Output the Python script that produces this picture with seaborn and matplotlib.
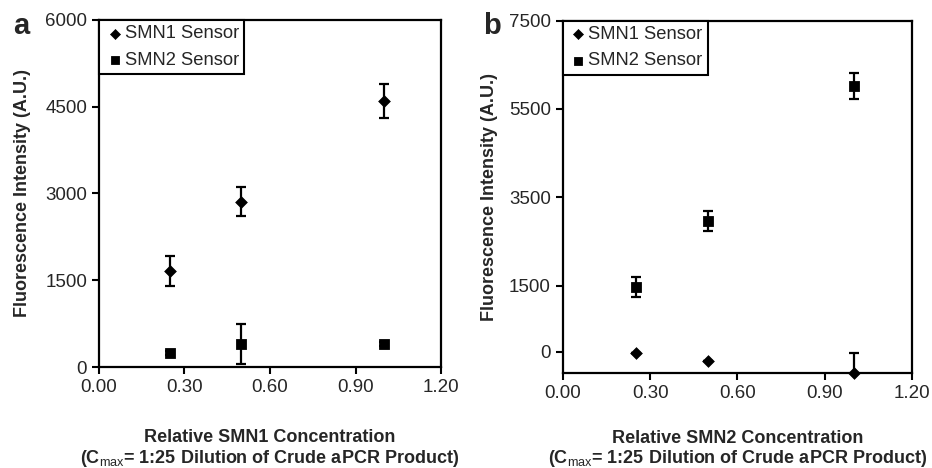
import numpy as np
import pandas as pd
import seaborn as sns
import matplotlib.pyplot as plt

# concentrations (relative to Cmax)
conc = [0.25, 0.50, 1.00]

# panel a: SMN1 target
a_smn1 = [1660, 2860, 4600]
a_smn1_err = [260, 245, 300]
a_smn2 = [240, 400, 400]
a_smn2_err = [40, 350, 30]

# panel b: SMN2 target
b_smn1 = [-40, -200, -490]
b_smn1_err = [0, 0, 450]
b_smn2 = [1470, 2960, 6020]
b_smn2_err = [230, 225, 290]

sensors = ["SMN1 Sensor", "SMN2 Sensor"]

sns.set_style("ticks")
plt.rcParams["font.family"] = ["Liberation Sans", "DejaVu Sans"]
plt.rcParams["mathtext.fontset"] = "custom"
plt.rcParams["mathtext.rm"] = "Liberation Sans"

fig = plt.figure(figsize=(9.32, 4.68), dpi=100)
ax_a = fig.add_axes([0.1062, 0.2158, 0.367, 0.7415])
ax_b = fig.add_axes([0.6038, 0.2023, 0.3748, 0.7534])

xlab2 = "(C$_{\\mathrm{max}}$= 1:25 Dilution of Crude aPCR Product)"


def draw(ax, s1, e1, s2, e2, ylim, yticks, xlabel, xpad, ypad):
    for vals, errs in [(s1, e1), (s2, e2)]:
        ax.errorbar(conc, vals, yerr=errs, fmt="none", ecolor="black",
                    elinewidth=1.6, capsize=3.5, capthick=1.6)
    df1 = pd.DataFrame({"conc": conc, "val": s1})
    df2 = pd.DataFrame({"conc": conc, "val": s2})
    sns.scatterplot(data=df1, x="conc", y="val", marker="D", s=36,
                    color="black", edgecolor="black", label=sensors[0],
                    ax=ax, clip_on=False, zorder=5)
    sns.scatterplot(data=df2, x="conc", y="val", marker="s", s=55,
                    color="black", edgecolor="black", label=sensors[1],
                    ax=ax, clip_on=False, zorder=5)
    ax.set_xlim(0, 1.2)
    ticks = np.arange(0, 1.21, 0.3)
    ax.set_xticks(ticks)
    ax.set_xticklabels([f"{t:.2f}" for t in ticks])
    ax.set_ylim(*ylim)
    ax.set_yticks(yticks)
    ax.tick_params(labelsize=13.5, length=5, width=1.5, direction="out", color="black")
    for sp in ax.spines.values():
        sp.set_visible(True)
        sp.set_linewidth(1.6)
        sp.set_color("black")
    ax.set_xlabel(xlabel + "\n" + xlab2, fontsize=13, fontweight="bold", labelpad=xpad,
                  linespacing=1.1)
    ax.set_ylabel("Fluorescence Intensity (A.U.)", fontsize=13, fontweight="bold",
                  labelpad=ypad)
    leg = ax.legend(loc="upper left", borderaxespad=0, fontsize=13.2, frameon=True,
                    fancybox=False, framealpha=1, edgecolor="black",
                    handletextpad=0.0, handlelength=1.1, borderpad=0.3,
                    labelspacing=0.5, markerscale=0.85)
    leg.get_frame().set_linewidth(1.5)


draw(ax_a, a_smn1, a_smn1_err, a_smn2, a_smn2_err, (0, 6000),
     [0, 1500, 3000, 4500, 6000], "Relative SMN1 Concentration", 24, 10)
draw(ax_b, b_smn1, b_smn1_err, b_smn2, b_smn2_err, (-490, 7500),
     [0, 1500, 3500, 5500, 7500], "Relative SMN2 Concentration", 20, 8)

fig.text(0.014, 0.928, "a", fontsize=21, fontweight="bold")
fig.text(0.518, 0.928, "b", fontsize=21, fontweight="bold")

plt.savefig("out.png", dpi=100)
